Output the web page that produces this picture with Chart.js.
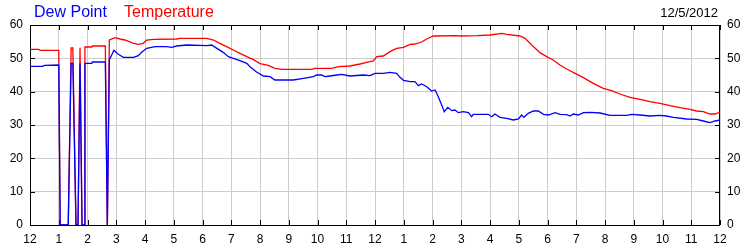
<!DOCTYPE html>
<html>
<head>
<meta charset="utf-8">
<script src="https://cdn.jsdelivr.net/npm/chart.js@4/dist/chart.umd.min.js"></script>
<style>
  body { margin: 0; background: #fff; }
  #wrap { width: 750px; height: 250px; }
</style>
</head>
<body>
<div id="wrap"><canvas id="weatherChart" width="750" height="250"></canvas></div>
<script>
// hour labels along the bottom, midnight to midnight
const hourLabels = ['12', '1', '2', '3', '4', '5', '6', '7', '8', '9', '10', '11',
  '12', '1', '2', '3', '4', '5', '6', '7', '8', '9', '10', '11', '12'];
const yTicks = [0, 10, 20, 30, 40, 50, 60];
const chartDate = '12/5/2012';

// temperature readings (hours since midnight / °F)
const tempTimes = [0, 0.3, 0.35, 1.0, 1.05, 1.33, 1.43, 1.49, 1.6, 1.67, 1.74, 1.81, 1.88, 1.91,
  2.15, 2.17, 2.62, 2.69, 2.76, 2.96, 3.13, 3.3, 3.6, 3.77, 3.94, 4.06, 4.29, 5.1, 5.2, 6.15,
  6.38, 6.6, 6.84, 7.07, 7.3, 7.54, 7.77, 8.0, 8.29, 8.52, 8.75, 9.8, 9.91, 10.49, 10.73, 11.13,
  11.48, 11.71, 11.94, 12.06, 12.29, 12.52, 12.75, 12.99, 13.22, 13.39, 13.62, 13.8, 14.03,
  14.84, 14.96, 15.54, 16.0, 16.41, 16.58, 17.04, 17.22, 17.45, 17.74, 17.97, 18.2, 18.43,
  18.67, 18.96, 19.25, 19.59, 19.94, 20.23, 20.52, 20.87, 21.22, 21.57, 21.91, 22.26, 22.61,
  22.96, 23.19, 23.42, 23.65, 23.83, 24.0];
const temperature = [52.7, 52.7, 52.4, 52.4, 0, 0, 53.1, 53.1, 0, 0, 53.2, 0, 0, 53.4,
  53.4, 53.7, 53.7, 0, 55.5, 56.2, 55.8, 55.5, 54.5, 54.2, 54.5, 55.5, 55.7, 55.8, 56.0, 56.0,
  55.5, 54.5, 53.5, 52.5, 51.5, 50.5, 49.6, 48.4, 47.9, 47.0, 46.7, 46.7, 47.0, 47.0, 47.5, 47.7,
  48.3, 48.8, 49.2, 50.5, 50.7, 52.0, 53.0, 53.3, 54.2, 54.3, 54.9, 55.8, 56.7,
  56.8, 56.7, 56.8, 57.0, 57.5, 57.2, 56.7, 56.0, 54.0, 51.7, 50.5, 49.5, 48.0,
  46.8, 45.5, 44.2, 42.5, 41.0, 40.3, 39.3, 38.3, 37.7, 37.0, 36.5, 35.8, 35.2,
  34.7, 34.2, 34.0, 33.3, 33.3, 33.9];

// dew point readings
const dewTimes = [0, 0.45, 0.5, 1.0, 1.05, 1.33, 1.43, 1.49, 1.6, 1.67, 1.74, 1.81, 1.88, 1.91,
  2.15, 2.17, 2.62, 2.69, 2.76, 2.92, 3.07, 3.25, 3.6, 3.77, 3.88, 4.06, 4.35, 4.75, 4.93, 5.1,
  5.45, 6.15, 6.32, 6.5, 6.72, 6.9, 7.07, 7.3, 7.54, 7.65, 7.88, 8.12, 8.35, 8.52, 9.16, 9.51,
  9.86, 9.97, 10.14, 10.26, 10.43, 10.67, 10.84, 11.13, 11.59, 11.83, 12.0, 12.29, 12.52, 12.75,
  12.87, 12.99, 13.22, 13.39, 13.51, 13.62, 13.8, 13.97, 14.09, 14.2, 14.32, 14.41, 14.53,
  14.67, 14.78, 14.9, 15.07, 15.25, 15.36, 15.42, 15.94, 16.06, 16.17, 16.35, 16.58, 16.81,
  16.99, 17.1, 17.18, 17.33, 17.51, 17.68, 17.86, 18.03, 18.26, 18.43, 18.67, 18.78, 18.9,
  19.07, 19.25, 19.48, 19.83, 20.17, 20.75, 20.93, 21.22, 21.57, 21.91, 22.14, 22.38, 22.84,
  23.19, 23.42, 23.65, 23.83, 24.0];
const dewPoint = [47.6, 47.6, 47.9, 48.0, 0, 0, 48.5, 48.5, 0, 0, 48.5, 0, 0, 48.5,
  48.5, 48.9, 48.9, 0, 49.5, 52.4, 51.2, 50.3, 50.3, 50.8, 51.8, 53.0, 53.5, 53.5, 53.3, 53.7,
  54.0, 53.8, 54.0, 53.0, 51.8, 50.5, 50.0, 49.3, 48.5, 47.5, 45.9, 44.7, 44.5, 43.5, 43.5, 44.0,
  44.5, 45.0, 45.0, 44.5, 44.7, 45.0, 45.2, 44.7, 45.0, 44.8, 45.5, 45.5, 45.8, 45.5,
  44.3, 43.4, 43.0, 43.0, 41.8, 42.3, 41.5, 40.2, 40.5, 38.5, 36.0, 34.0, 35.3,
  34.3, 34.5, 33.7, 34.0, 33.7, 32.5, 33.2, 33.2, 32.5, 33.3, 32.3, 32.0, 31.5,
  31.8, 33.0, 32.3, 33.5, 34.2, 34.2, 33.2, 33.0, 33.7, 33.2, 33.1, 32.7, 33.3,
  33.0, 33.7, 33.8, 33.6, 32.9, 32.9, 33.2, 33.0, 32.7, 32.9, 32.7, 32.3, 31.8,
  31.7, 31.2, 30.7, 31.2, 31.5];

const toPoints = (xs, ys) => xs.map((x, i) => ({ x: x, y: ys[i] }));

Chart.defaults.font.family = '"Liberation Sans", Arial, sans-serif';
Chart.defaults.font.size = 12;
Chart.defaults.color = '#000';

// header text, frame and the small inward tick marks
const decorations = {
  id: 'decorations',
  beforeDatasetsDraw(chart) {
    const { ctx, chartArea: a, scales } = chart;
    ctx.save();
    ctx.strokeStyle = '#000';
    ctx.lineWidth = 1;
    ctx.beginPath();
    scales.x.ticks.forEach(t => {
      const px = Math.round(scales.x.getPixelForValue(t.value)) + 0.5;
      ctx.moveTo(px, a.bottom); ctx.lineTo(px, a.bottom - 5);
      ctx.moveTo(px, a.top); ctx.lineTo(px, a.top + 5);
    });
    scales.y.ticks.forEach(t => {
      const py = Math.round(scales.y.getPixelForValue(t.value)) + 0.5;
      ctx.moveTo(a.left, py); ctx.lineTo(a.left + 5, py);
      ctx.moveTo(a.right, py); ctx.lineTo(a.right - 5, py);
    });
    ctx.stroke();
    ctx.strokeRect(Math.round(a.left) + 0.5, Math.round(a.top) + 0.5,
      Math.round(a.right - a.left) - 1, Math.round(a.bottom - a.top));
    ctx.restore();
  },
  afterDraw(chart) {
    const { ctx } = chart;
    ctx.save();
    ctx.textBaseline = 'alphabetic';
    ctx.font = '16px "Liberation Sans", Arial, sans-serif';
    ctx.fillStyle = '#0000ff';
    ctx.textAlign = 'left';
    ctx.fillText('Dew Point', 34, 17);
    ctx.fillStyle = '#ff0000';
    ctx.fillText('Temperature', 124, 17);
    ctx.font = '13px "Liberation Sans", Arial, sans-serif';
    ctx.fillStyle = '#000';
    ctx.textAlign = 'right';
    ctx.fillText(chartDate, 718, 17);
    ctx.restore();
  }
};

new Chart(document.getElementById('weatherChart'), {
  type: 'line',
  data: {
    datasets: [
      {
        label: 'Dew Point',
        data: toPoints(dewTimes, dewPoint),
        borderColor: '#0000ff',
        borderWidth: 1.3,
        pointRadius: 0,
        tension: 0,
        yAxisID: 'y',
      },
      {
        label: 'Temperature',
        data: toPoints(tempTimes, temperature),
        borderColor: '#ff0000',
        borderWidth: 1.3,
        pointRadius: 0,
        tension: 0,
        yAxisID: 'y',
      },
    ],
  },
  options: {
    responsive: false,
    animation: false,
    layout: { padding: { top: 25, left: 0, right: 0, bottom: 0 } },
    plugins: {
      legend: { display: false },
      tooltip: { enabled: false },
    },
    scales: {
      x: {
        type: 'linear',
        min: 0,
        max: 24,
        afterFit: s => { s.height = 25; },
        grid: { color: '#cccccc', drawTicks: false },
        border: { display: false },
        ticks: {
          stepSize: 1,
          autoSkip: false,
          maxRotation: 0,
          padding: 7,
          callback: v => hourLabels[v],
        },
      },
      y: {
        position: 'left',
        min: 0,
        max: 60,
        afterFit: s => { s.width = 30; },
        grid: { color: '#cccccc', drawTicks: false },
        border: { display: false },
        ticks: { stepSize: 10, padding: 7, callback: v => yTicks.includes(v) ? String(v) : '' },
      },
      y2: {
        position: 'right',
        min: 0,
        max: 60,
        afterFit: s => { s.width = 30; },
        grid: { display: false, drawTicks: false },
        border: { display: false },
        ticks: { stepSize: 10, padding: 7, callback: v => yTicks.includes(v) ? String(v) : '' },
      },
    },
  },
  plugins: [decorations],
});
</script>
</body>
</html>
